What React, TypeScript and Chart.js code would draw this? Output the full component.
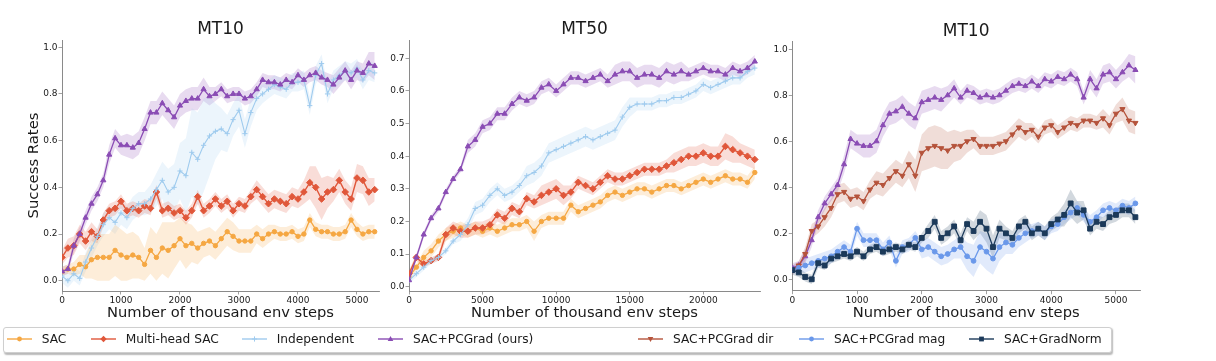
import React, { useEffect, useRef } from "react";
import { Chart, registerables } from "chart.js";

Chart.register(...registerables);

const FONT = "'DejaVu Sans', 'Noto Sans', sans-serif";

// ---------- x categories / tick labels ----------
const stepsMT10 = [0,100,200,300,400,500,600,700,800,900,1000,1100,1200,1300,1400,1500,1600,1700,1800,1900,2000,2100,2200,2300,2400,2500,2600,2700,2800,2900,3000,3100,3200,3300,3400,3500,3600,3700,3800,3900,4000,4100,4200,4300,4400,4500,4600,4700,4800,4900,5000,5100,5200,5300];
const stepsMT50 = [0,500,1000,1500,2000,2500,3000,3500,4000,4500,5000,5500,6000,6500,7000,7500,8000,8500,9000,9500,10000,10500,11000,11500,12000,12500,13000,13500,14000,14500,15000,15500,16000,16500,17000,17500,18000,18500,19000,19500,20000,20500,21000,21500,22000,22500,23000,23500];
const xTicksMT10 = [0,1000,2000,3000,4000,5000];
const xTicksMT50 = [0,5000,10000,15000,20000];
const yTicksMT10 = [0,0.2,0.4,0.6,0.8,1.0];
const yTicksMT50 = [0,0.1,0.2,0.3,0.4,0.5,0.6,0.7];

const methodNames = ["SAC","Multi-head SAC","Independent","SAC+PCGrad (ours)","SAC+PCGrad dir","SAC+PCGrad mag","SAC+GradNorm"];

// ---------- Panel 1: MT10 ----------
const mt10aSac = [0.04,0.05,0.05,0.07,0.06,0.09,0.10,0.10,0.10,0.13,
0.11,0.10,0.11,0.10,0.07,0.13,0.10,0.14,0.13,0.15,
0.18,0.15,0.16,0.14,0.16,0.17,0.15,0.18,0.21,0.19,
0.17,0.17,0.17,0.20,0.18,0.20,0.21,0.20,0.20,0.21,
0.19,0.20,0.26,0.22,0.21,0.21,0.20,0.20,0.21,0.26,
0.22,0.20,0.21,0.21];
const mt10aSacSd = [0.02,0.02,0.03,0.04,0.05,0.08,0.10,0.10,0.10,0.11,
0.11,0.10,0.10,0.09,0.07,0.10,0.10,0.11,0.12,0.10,
0.09,0.10,0.08,0.07,0.06,0.06,0.06,0.06,0.06,0.06,
0.05,0.05,0.05,0.04,0.04,0.04,0.03,0.03,0.03,0.03,
0.03,0.03,0.03,0.03,0.03,0.03,0.03,0.03,0.03,0.03,
0.03,0.03,0.03,0.03];
const mt10aMh = [0.10,0.14,0.15,0.20,0.17,0.21,0.19,0.26,0.30,0.31,
0.34,0.30,0.31,0.30,0.32,0.31,0.38,0.30,0.31,0.29,
0.30,0.27,0.30,0.36,0.30,0.32,0.35,0.32,0.34,0.30,
0.33,0.32,0.36,0.39,0.36,0.33,0.35,0.34,0.33,0.36,
0.35,0.38,0.42,0.40,0.35,0.38,0.39,0.43,0.38,0.35,
0.44,0.43,0.38,0.39];
const mt10aMhSd = [0.03,0.04,0.04,0.04,0.04,0.04,0.03,0.03,0.03,0.03,
0.03,0.03,0.03,0.03,0.03,0.03,0.03,0.03,0.03,0.03,
0.03,0.03,0.03,0.03,0.03,0.03,0.03,0.03,0.03,0.03,
0.03,0.03,0.03,0.04,0.04,0.04,0.04,0.04,0.04,0.04,
0.04,0.05,0.07,0.09,0.09,0.07,0.05,0.05,0.05,0.05,
0.06,0.06,0.06,0.05];
const mt10aInd = [0.02,0.00,0.03,0.01,0.08,0.14,0.19,0.24,0.27,0.25,
0.29,0.27,0.31,0.33,0.33,0.35,0.39,0.43,0.38,0.40,
0.47,0.45,0.55,0.52,0.58,0.62,0.64,0.65,0.63,0.69,
0.73,0.63,0.72,0.78,0.80,0.82,0.84,0.83,0.82,0.85,
0.85,0.86,0.75,0.88,0.93,0.80,0.86,0.88,0.90,0.89,
0.91,0.86,0.90,0.89];
const mt10aIndSd = [0.03,0.03,0.03,0.03,0.04,0.04,0.04,0.05,0.05,0.05,
0.05,0.05,0.05,0.05,0.05,0.06,0.07,0.08,0.10,0.10,
0.12,0.16,0.19,0.20,0.20,0.17,0.12,0.09,0.08,0.07,
0.07,0.06,0.06,0.05,0.04,0.04,0.04,0.04,0.04,0.04,
0.04,0.04,0.04,0.04,0.04,0.04,0.04,0.04,0.04,0.04,
0.04,0.04,0.04,0.04];
const mt10aPcg = [0.04,0.05,0.15,0.20,0.27,0.33,0.37,0.43,0.54,0.61,
0.58,0.58,0.57,0.59,0.65,0.72,0.72,0.76,0.73,0.70,
0.75,0.77,0.78,0.78,0.82,0.79,0.80,0.82,0.79,0.80,
0.80,0.78,0.79,0.82,0.86,0.85,0.85,0.84,0.86,0.85,
0.88,0.86,0.88,0.89,0.87,0.86,0.84,0.87,0.90,0.86,
0.90,0.89,0.93,0.92];
const mt10aPcgSd = [0.02,0.02,0.03,0.03,0.03,0.03,0.03,0.03,0.04,0.04,
0.04,0.05,0.05,0.05,0.05,0.05,0.05,0.05,0.05,0.05,
0.05,0.05,0.05,0.05,0.05,0.04,0.03,0.03,0.03,0.03,
0.03,0.03,0.03,0.03,0.03,0.03,0.03,0.03,0.03,0.03,
0.03,0.03,0.03,0.03,0.03,0.03,0.04,0.04,0.04,0.04,
0.04,0.04,0.05,0.06];

// ---------- Panel 2: MT50 ----------
const mt50Sac = [0.03,0.06,0.09,0.11,0.14,0.16,0.17,0.18,0.17,0.18,
0.17,0.18,0.17,0.18,0.19,0.19,0.20,0.17,0.20,0.21,
0.21,0.21,0.25,0.23,0.24,0.25,0.26,0.28,0.29,0.28,
0.29,0.30,0.30,0.29,0.30,0.31,0.31,0.30,0.31,0.32,
0.33,0.32,0.33,0.34,0.33,0.33,0.32,0.35];
const mt50SacSd = [0.01,0.01,0.02,0.02,0.02,0.02,0.02,0.02,0.02,0.02,
0.02,0.02,0.02,0.02,0.02,0.02,0.02,0.03,0.02,0.02,
0.02,0.02,0.02,0.02,0.02,0.02,0.02,0.02,0.02,0.02,
0.02,0.02,0.02,0.02,0.02,0.02,0.02,0.02,0.02,0.02,
0.02,0.02,0.02,0.02,0.02,0.02,0.02,0.02];
const mt50Mh = [0.04,0.09,0.07,0.08,0.09,0.16,0.18,0.17,0.17,0.18,
0.18,0.19,0.22,0.21,0.24,0.23,0.27,0.26,0.28,0.29,
0.30,0.28,0.29,0.32,0.31,0.30,0.32,0.34,0.33,0.33,
0.34,0.35,0.36,0.36,0.36,0.37,0.38,0.39,0.40,0.40,
0.41,0.40,0.40,0.43,0.42,0.41,0.40,0.39];
const mt50MhSd = [0.01,0.01,0.01,0.01,0.01,0.02,0.02,0.02,0.02,0.02,
0.02,0.02,0.02,0.02,0.02,0.02,0.02,0.02,0.03,0.03,
0.03,0.03,0.02,0.02,0.02,0.02,0.02,0.02,0.02,0.02,
0.02,0.02,0.02,0.02,0.02,0.02,0.03,0.03,0.03,0.03,
0.03,0.03,0.03,0.04,0.04,0.03,0.03,0.03];
const mt50Ind = [0.02,0.04,0.06,0.08,0.09,0.11,0.14,0.16,0.19,0.24,
0.25,0.28,0.30,0.28,0.29,0.31,0.34,0.35,0.37,0.41,
0.42,0.43,0.44,0.45,0.46,0.45,0.46,0.47,0.48,0.52,
0.55,0.56,0.56,0.56,0.57,0.57,0.58,0.58,0.59,0.60,
0.62,0.61,0.62,0.63,0.64,0.64,0.66,0.67];
const mt50IndSd = [0.01,0.01,0.01,0.01,0.01,0.01,0.01,0.02,0.02,0.02,
0.02,0.02,0.02,0.02,0.02,0.02,0.03,0.03,0.03,0.03,
0.03,0.03,0.03,0.03,0.03,0.03,0.03,0.03,0.03,0.03,
0.03,0.02,0.02,0.02,0.02,0.02,0.02,0.02,0.02,0.02,
0.02,0.02,0.02,0.02,0.02,0.02,0.02,0.02];
const mt50Pcg = [0.02,0.09,0.16,0.21,0.24,0.29,0.33,0.36,0.43,0.45,
0.49,0.50,0.53,0.53,0.56,0.58,0.57,0.58,0.61,0.62,
0.60,0.62,0.64,0.64,0.63,0.64,0.65,0.63,0.65,0.66,
0.66,0.64,0.65,0.65,0.64,0.66,0.65,0.66,0.65,0.66,
0.67,0.66,0.66,0.65,0.67,0.66,0.67,0.69];
const mt50PcgSd = [0.01,0.01,0.01,0.01,0.01,0.01,0.01,0.01,0.02,0.02,
0.02,0.02,0.02,0.02,0.02,0.02,0.02,0.02,0.02,0.02,
0.02,0.02,0.02,0.02,0.02,0.02,0.02,0.02,0.03,0.03,
0.03,0.03,0.03,0.03,0.03,0.03,0.03,0.03,0.02,0.02,
0.02,0.02,0.02,0.02,0.02,0.02,0.02,0.02];

// ---------- Panel 3: MT10 (ablations) ----------
const mt10bPcg = [0.05,0.06,0.10,0.17,0.27,0.33,0.37,0.41,0.50,0.61,
0.59,0.58,0.58,0.60,0.67,0.72,0.73,0.75,0.72,0.70,
0.77,0.78,0.79,0.78,0.80,0.83,0.79,0.82,0.81,0.79,
0.80,0.79,0.80,0.82,0.84,0.85,0.84,0.86,0.84,0.87,
0.86,0.88,0.87,0.89,0.87,0.79,0.87,0.83,0.89,0.90,
0.87,0.90,0.93,0.91];
const mt10bPcgSd = [0.02,0.02,0.03,0.03,0.03,0.03,0.03,0.03,0.04,0.04,
0.04,0.05,0.05,0.05,0.05,0.05,0.05,0.05,0.05,0.05,
0.05,0.05,0.05,0.05,0.04,0.04,0.03,0.03,0.03,0.03,
0.03,0.03,0.03,0.03,0.03,0.03,0.03,0.03,0.03,0.03,
0.03,0.03,0.03,0.03,0.03,0.03,0.04,0.04,0.04,0.04,
0.04,0.04,0.05,0.06];
const mt10bDir = [0.04,0.06,0.11,0.21,0.23,0.27,0.31,0.37,0.38,0.35,
0.36,0.34,0.39,0.42,0.41,0.44,0.47,0.45,0.50,0.45,
0.55,0.57,0.58,0.57,0.56,0.58,0.58,0.60,0.61,0.58,
0.58,0.58,0.59,0.60,0.63,0.66,0.64,0.65,0.62,0.66,
0.67,0.64,0.66,0.68,0.67,0.69,0.69,0.68,0.70,0.67,
0.72,0.74,0.69,0.68];
const mt10bDirSd = [0.02,0.02,0.03,0.03,0.03,0.04,0.04,0.04,0.04,0.04,
0.04,0.04,0.04,0.05,0.05,0.05,0.05,0.05,0.06,0.07,
0.08,0.09,0.09,0.09,0.08,0.07,0.06,0.05,0.04,0.04,
0.04,0.04,0.04,0.04,0.04,0.04,0.04,0.03,0.03,0.03,
0.03,0.03,0.03,0.03,0.03,0.03,0.03,0.03,0.04,0.04,
0.04,0.05,0.05,0.05];
const mt10bMag = [0.04,0.05,0.06,0.07,0.08,0.09,0.10,0.12,0.14,0.12,
0.22,0.17,0.17,0.17,0.13,0.16,0.08,0.14,0.15,0.18,
0.13,0.14,0.12,0.10,0.11,0.13,0.14,0.10,0.08,0.14,
0.12,0.09,0.14,0.16,0.15,0.18,0.20,0.21,0.22,0.20,
0.23,0.24,0.27,0.29,0.31,0.28,0.25,0.27,0.30,0.31,
0.30,0.32,0.31,0.33];
const mt10bMagSd = [0.02,0.02,0.03,0.03,0.03,0.03,0.03,0.03,0.03,0.03,
0.03,0.03,0.03,0.03,0.03,0.03,0.03,0.03,0.03,0.03,
0.04,0.04,0.04,0.04,0.04,0.04,0.05,0.06,0.07,0.07,
0.08,0.07,0.06,0.05,0.04,0.04,0.04,0.03,0.03,0.03,
0.03,0.03,0.03,0.03,0.03,0.03,0.03,0.03,0.03,0.03,
0.03,0.03,0.03,0.03];
const mt10bGn = [0.04,0.03,0.01,0.00,0.07,0.06,0.09,0.10,0.11,0.10,
0.12,0.10,0.13,0.14,0.12,0.13,0.14,0.13,0.15,0.14,
0.18,0.21,0.25,0.18,0.20,0.23,0.17,0.24,0.21,0.25,
0.22,0.14,0.22,0.20,0.18,0.23,0.25,0.20,0.22,0.20,
0.24,0.26,0.28,0.33,0.29,0.30,0.22,0.25,0.24,0.27,
0.28,0.30,0.30,0.27];
const mt10bGnSd = [0.02,0.02,0.02,0.02,0.02,0.02,0.02,0.02,0.02,0.02,
0.02,0.02,0.02,0.02,0.02,0.02,0.02,0.02,0.02,0.02,
0.02,0.03,0.03,0.03,0.03,0.03,0.03,0.03,0.04,0.05,
0.06,0.05,0.04,0.03,0.03,0.03,0.03,0.03,0.03,0.03,
0.03,0.03,0.05,0.06,0.05,0.04,0.03,0.03,0.03,0.03,
0.03,0.03,0.03,0.03];

// ---------- styles ----------
const STYLES: any = {
  "SAC": { color: "#f5a742", rgb: "245,167,66", point: "circle", radius: 2.2, lw: 1.3 },
  "Multi-head SAC": { color: "#e0573a", rgb: "224,87,58", point: "rectRot", radius: 3.3, lw: 1.4 },
  "Independent": { color: "#9fcbee", rgb: "159,203,238", point: "cross", radius: 2.6, lw: 1.1 },
  "SAC+PCGrad (ours)": { color: "#8a4cb4", rgb: "138,76,180", point: "triangle", radius: 3, lw: 1.3 },
  "SAC+PCGrad dir": { color: "#b5533b", rgb: "181,83,59", point: "triangle", radius: 3, rotation: 180, lw: 1.3 },
  "SAC+PCGrad mag": { color: "#6a98ea", rgb: "106,152,234", point: "circle", radius: 2.4, lw: 1.3 },
  "SAC+GradNorm": { color: "#1c3a5a", rgb: "28,58,90", point: "rect", radius: 3.4, lw: 1.3 },
};

const panels: any[] = [
  {
    title: "MT10", steps: stepsMT10, xTicks: xTicksMT10, yTicks: yTicksMT10,
    xMax: 5373, yMin: -0.044, yMax: 1.031,
    left: 0, width: 395, yWidth: 62, padRight: 16, titleTop: 19.6, xAxisH: 39, yTitle: "Success Rates",
    series: [
      { method: methodNames[0], values: mt10aSac, spread: mt10aSacSd },
      { method: methodNames[1], values: mt10aMh, spread: mt10aMhSd },
      { method: methodNames[2], values: mt10aInd, spread: mt10aIndSd },
      { method: methodNames[3], values: mt10aPcg, spread: mt10aPcgSd },
    ],
  },
  {
    title: "MT50", steps: stepsMT50, xTicks: xTicksMT50, yTicks: yTicksMT50,
    xMax: 23853, yMin: -0.013, yMax: 0.756,
    left: 384, width: 390, yWidth: 25, padRight: 14, titleTop: 19.6, xAxisH: 39,
    series: [
      { method: methodNames[0], values: mt50Sac, spread: mt50SacSd },
      { method: methodNames[1], values: mt50Mh, spread: mt50MhSd },
      { method: methodNames[2], values: mt50Ind, spread: mt50IndSd },
      { method: methodNames[3], values: mt50Pcg, spread: mt50PcgSd },
    ],
  },
  {
    title: "MT10", steps: stepsMT10, xTicks: xTicksMT10, yTicks: yTicksMT10,
    xMax: 5371, yMin: -0.0496, yMax: 1.033,
    left: 766, width: 450, yWidth: 26.3, padRight: 76, titleTop: 21.3, xAxisH: 39.3,
    series: [
      { method: methodNames[3], values: mt10bPcg, spread: mt10bPcgSd },
      { method: methodNames[4], values: mt10bDir, spread: mt10bDirSd },
      { method: methodNames[5], values: mt10bMag, spread: mt10bMagSd },
      { method: methodNames[6], values: mt10bGn, spread: mt10bGnSd },
    ],
  },
];

const CANVAS_H = 330;
const AXIS_GRAY = "#8a8a8a";
const TEXT = "#1a1a1a";

function Panel({ p }: { p: any }) {
  const ref = useRef<HTMLCanvasElement>(null);
  useEffect(() => {
    const canvas = ref.current as HTMLCanvasElement;
    const datasets: any[] = [];
    p.series.forEach((s: any) => {
      const st = STYLES[s.method];
      datasets.push({
        label: s.method + " upper",
        data: p.steps.map((x: number, k: number) => ({ x, y: s.values[k] + s.spread[k] })),
        borderWidth: 0, borderColor: "rgba(0,0,0,0)", pointRadius: 0, fill: false, order: 100,
      });
      datasets.push({
        label: s.method + " lower",
        data: p.steps.map((x: number, k: number) => ({ x, y: s.values[k] - s.spread[k] })),
        borderWidth: 0, borderColor: "rgba(0,0,0,0)", pointRadius: 0, fill: "-1",
        backgroundColor: `rgba(${st.rgb},0.2)`, order: 100,
      });
    });
    p.series.forEach((s: any, i: number) => {
      const st = STYLES[s.method];
      datasets.push({
        label: s.method,
        data: p.steps.map((x: number, k: number) => ({ x, y: s.values[k] })),
        borderColor: st.color, backgroundColor: st.color, borderWidth: st.lw,
        pointStyle: st.point, pointRadius: st.radius, pointRotation: st.rotation || 0,
        pointBackgroundColor: st.color, pointBorderColor: st.color, pointBorderWidth: 1,
        fill: false, tension: 0, order: p.series.length - i,
      });
    });

    const tickFont = { family: FONT, size: 9 };
    const chart = new Chart(canvas, {
      type: "line",
      data: { datasets },
      options: {
        animation: false,
        responsive: false,
        maintainAspectRatio: false,
        devicePixelRatio: 1,
        events: [],
        layout: { padding: { left: 0, right: p.padRight, top: 0, bottom: 0 } },
        plugins: {
          legend: { display: false },
          tooltip: { enabled: false },
          title: {
            display: true, text: p.title, fullSize: false, color: TEXT,
            font: { family: FONT, size: 17, weight: "normal", lineHeight: 1.2 },
            padding: { top: p.titleTop, bottom: 0 },
          },
        },
        scales: {
          x: {
            type: "linear", min: 0, max: p.xMax,
            afterFit: (s: any) => { s.height = p.xAxisH; },
            afterBuildTicks: (s: any) => { s.ticks = p.xTicks.map((v: number) => ({ value: v })); },
            ticks: { font: tickFont, color: TEXT, padding: 1, autoSkip: false, maxRotation: 0, minRotation: 0, callback: (v: any) => String(v) },
            grid: { display: true, drawOnChartArea: false, drawTicks: true, tickLength: 3.5, color: AXIS_GRAY, lineWidth: 0.8 },
            border: { display: true, color: AXIS_GRAY, width: 1 },
            title: { display: true, text: "Number of thousand env steps", color: TEXT, font: { family: FONT, size: 14.7, lineHeight: 1.2 }, padding: { top: 0, bottom: 8 } },
          },
          y: {
            type: "linear", min: p.yMin, max: p.yMax,
            afterFit: (s: any) => { s.width = p.yWidth; },
            afterBuildTicks: (s: any) => { s.ticks = p.yTicks.map((v: number) => ({ value: v })); },
            ticks: { font: tickFont, color: TEXT, padding: 1, autoSkip: false, callback: (v: any) => Number(v).toFixed(1) },
            grid: { display: true, drawOnChartArea: false, drawTicks: true, tickLength: 3.5, color: AXIS_GRAY, lineWidth: 0.8 },
            border: { display: true, color: AXIS_GRAY, width: 1 },
            title: { display: !!p.yTitle, text: p.yTitle || "", color: TEXT, font: { family: FONT, size: 14.8, lineHeight: 1.2 }, padding: { top: 25, bottom: 0 } },
          },
        },
      } as any,
    });
    return () => chart.destroy();
  }, [p]);
  return (
    <canvas
      ref={ref}
      width={p.width}
      height={CANVAS_H}
      style={{ position: "absolute", left: p.left, top: 0, width: p.width, height: CANVAS_H }}
    />
  );
}

function Marker({ method }: { method: string }) {
  const st = STYLES[method];
  const c = st.color;
  const cx = 12.5, cy = 6;
  let m: any = null;
  if (st.point === "circle") m = <circle cx={cx} cy={cy} r={2.4} fill={c} />;
  else if (st.point === "rectRot") m = <polygon points={`${cx},${cy - 3.2} ${cx + 3.2},${cy} ${cx},${cy + 3.2} ${cx - 3.2},${cy}`} fill={c} />;
  else if (st.point === "cross") m = <path d={`M${cx} ${cy - 2.6} V${cy + 2.6} M${cx - 2.6} ${cy} H${cx + 2.6}`} stroke={c} strokeWidth={1} />;
  else if (st.point === "triangle" && st.rotation === 180) m = <polygon points={`${cx - 2.8},${cy - 2} ${cx + 2.8},${cy - 2} ${cx},${cy + 3}`} fill={c} />;
  else if (st.point === "triangle") m = <polygon points={`${cx},${cy - 3} ${cx + 2.8},${cy + 2} ${cx - 2.8},${cy + 2}`} fill={c} />;
  else if (st.point === "rect") m = <rect x={cx - 2.4} y={cy - 2.4} width={4.8} height={4.8} fill={c} />;
  return (
    <svg width={26} height={12} style={{ position: "absolute", left: 0, top: 1, overflow: "visible" }}>
      <line x1={0} y1={cy} x2={25} y2={cy} stroke={c} strokeWidth={1.4} />
      {m}
    </svg>
  );
}

const legendLineX = [6.7, 90.7, 241.7, 378, 638, 799, 969];

function Legend() {
  return (
    <div
      style={{
        position: "absolute", left: 3, top: 327, width: 1107, height: 24,
        border: "1px solid #cfcfcf", borderRadius: 3, background: "#fff",
        boxShadow: "1px 1.5px 1.5px rgba(0,0,0,0.28)",
      }}
    >
      {methodNames.map((name, i) => (
        <div key={name} style={{ position: "absolute", left: legendLineX[i] - 4, top: 4, height: 14, width: 200 }}>
          <Marker method={name} />
          <span
            style={{
              position: "absolute", left: 35, top: 0, fontFamily: FONT, fontSize: 12.2,
              lineHeight: "14px", color: TEXT, whiteSpace: "nowrap",
            }}
          >
            {name}
          </span>
        </div>
      ))}
    </div>
  );
}

export default function App() {
  return (
    <div
      style={{
        position: "fixed", left: 0, top: 0, width: 1216, height: 361,
        background: "#fff", overflow: "hidden", fontFamily: FONT,
      }}
    >
      {panels.map((p, i) => (
        <Panel key={i} p={p} />
      ))}
      <Legend />
    </div>
  );
}
